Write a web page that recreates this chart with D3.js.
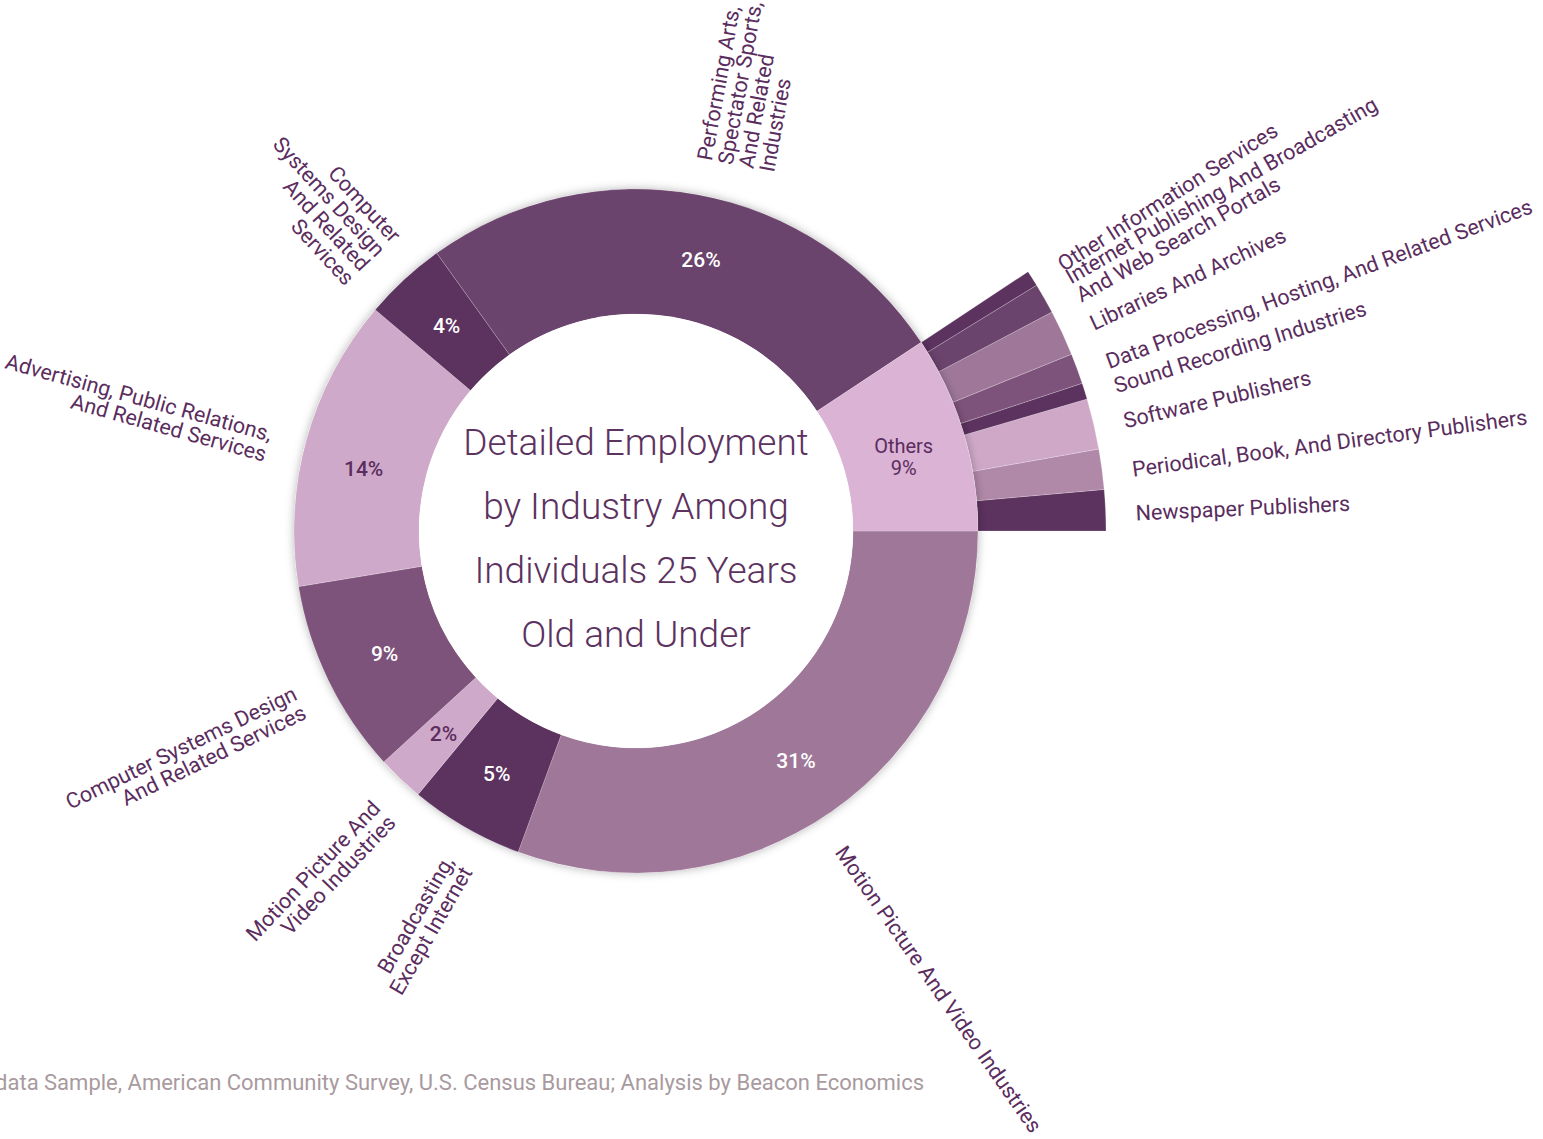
<!DOCTYPE html>
<html>
<head>
<meta charset="utf-8">
<script src="https://cdn.jsdelivr.net/npm/d3@7"></script>
<style>
  html, body { margin: 0; padding: 0; background: #ffffff; overflow: hidden; }
  svg { display: block; font-family: Roboto, "Noto Sans", sans-serif; }
</style>
</head>
<body>
<svg id="chart" width="1543" height="1139"></svg>
<script>
// ---- data ----
const categories = [
  "Motion Picture And Video Industries",
  "Broadcasting, Except Internet",
  "Motion Picture And Video Industries",
  "Computer Systems Design And Related Services",
  "Advertising, Public Relations, And Related Services",
  "Computer Systems Design And Related Services",
  "Performing Arts, Spectator Sports, And Related Industries",
  "Others"
];
const values = [30.6, 5.4, 2.2, 9.2, 13.8, 3.9, 25.6, 9.3];
const labelLines = [
  ["Motion Picture And Video Industries"],
  ["Broadcasting,", "Except Internet"],
  ["Motion Picture And", "Video Industries"],
  ["Computer Systems Design", "And Related Services"],
  ["Advertising, Public Relations,", "And Related Services"],
  ["Computer", "Systems Design", "And Related", "Services"],
  ["Performing Arts,", "Spectator Sports,", "And Related", "Industries"],
  []
];

const otherCategories = [
  "Newspaper Publishers",
  "Periodical, Book, And Directory Publishers",
  "Software Publishers",
  "Sound Recording Industries",
  "Data Processing, Hosting, And Related Services",
  "Libraries And Archives",
  "Internet Publishing And Broadcasting And Web Search Portals",
  "Other Information Services"
];
const otherValues = [1.41, 1.38, 1.74, 0.56, 1.05, 1.57, 1.05, 0.54];
const otherLabelLines = [
  ["Newspaper Publishers"],
  ["Periodical, Book, And Directory Publishers"],
  ["Software Publishers"],
  ["Sound Recording Industries"],
  ["Data Processing, Hosting, And Related Services"],
  ["Libraries And Archives"],
  ["Internet Publishing And Broadcasting", "And Web Search Portals"],
  ["Other Information Services"]
];

const titleLines = ["Detailed Employment", "by Industry Among", "Individuals 25 Years", "Old and Under"];
const sourceText = "Source: Public Use Microdata Sample, American Community Survey, U.S. Census Bureau; Analysis by Beacon Economics";

// ---- styling / layout (kept separate from data) ----
const colors = ["#9f7899", "#5c325f", "#cfa9c9", "#7e537b", "#cfa9c9", "#5c325f", "#6b446d", "#dab3d5"];
const otherColors = ["#5c325f", "#b088a8", "#cfa8c8", "#5c325f", "#7e537b", "#9f7899", "#6b446d", "#5c325f"];
const labelNudge = [14, 0, 0, -4, 4, -22, 0, 0];      // perpendicular shift of outer labels (px)
const pctAngleNudge = [0, 0, 0, 0, -2.5, 0, 3.0, 0];   // degrees
const subLabelNudge = 4;

const W = 1543, H = 1139;
const cx = 636, cy = 531;
const rInner = 217, rOuter = 342, rSubOuter = 470;
const labelR = 377, subLabelR = 500;
const textColor = "#5a2d5e";
const labelFont = 21.5, lineH = 0.98;
const darkSlices = new Set(["#5c325f", "#6b446d", "#7e537b", "#9f7899"]);

const svg = d3.select("#chart");
const defs = svg.append("defs");
const f = defs.append("filter").attr("id", "shadow")
  .attr("x", "-20%").attr("y", "-20%").attr("width", "140%").attr("height", "140%");
f.append("feDropShadow").attr("dx", 0).attr("dy", 0).attr("stdDeviation", 5)
  .attr("flood-color", "#000").attr("flood-opacity", 0.3);

const g = svg.append("g").attr("transform", `translate(${cx},${cy})`);

const total = d3.sum(values);
const pie = d3.pie().sort(null).value(d => d)
  .startAngle(Math.PI / 2).endAngle(Math.PI / 2 + 2 * Math.PI);
const arcs = pie(values);
const othersArc = arcs[arcs.length - 1];

// sub pie for "Others" breakdown, going counter-clockwise from 3 o'clock
const subPie = d3.pie().sort(null).value(d => d)
  .startAngle(othersArc.endAngle).endAngle(othersArc.startAngle);
const subArcs = subPie(otherValues);

const subArcGen = d3.arc().innerRadius(rOuter - 2).outerRadius(rSubOuter);
g.append("g").selectAll("path").data(subArcs).join("path")
  .attr("d", subArcGen)
  .attr("fill", (d, i) => otherColors[i])
  .attr("stroke", "rgba(255,255,255,0.35)").attr("stroke-width", 0.6);

// shadow disc behind donut
g.append("circle").attr("r", rOuter).attr("fill", "#fff").attr("filter", "url(#shadow)");

const arcGen = d3.arc().innerRadius(rInner).outerRadius(rOuter);
g.append("g").selectAll("path").data(arcs).join("path")
  .attr("d", arcGen)
  .attr("fill", (d, i) => colors[i])
  .attr("stroke", "rgba(255,255,255,0.3)").attr("stroke-width", 0.6);

g.append("circle").attr("r", rInner).attr("fill", "#fff");

function polar(a, r) { return [r * Math.cos(a - Math.PI / 2), r * Math.sin(a - Math.PI / 2)]; }

// percent labels
const midR = (rInner + rOuter) / 2;
arcs.forEach((d, i) => {
  const a = (d.startAngle + d.endAngle) / 2 + pctAngleNudge[i] * Math.PI / 180;
  const [x, y] = polar(a, midR);
  const pct = Math.round(d.value / total * 100) + "%";
  const fill = darkSlices.has(colors[i]) ? "#ffffff" : textColor;
  const t = g.append("text").attr("x", x).attr("y", y)
    .attr("text-anchor", "middle").attr("font-size", 21).attr("font-weight", 500)
    .attr("fill", fill);
  if (categories[i] === "Others") {
    t.attr("font-weight", 400).attr("font-size", 20);
    t.append("tspan").attr("x", x).attr("dy", "0.1em").text("Others");
    t.append("tspan").attr("x", x).attr("dy", "1.1em").text(pct);
  } else {
    t.attr("dy", "0.35em").text(pct);
  }
});

// outer radial labels
function radialLabel(a, r, lines, centered, nudge) {
  const deg = a * 180 / Math.PI - 90;
  const rightSide = Math.cos(a - Math.PI / 2) >= 0;
  const [x, y] = polar(a, r);
  const rot = rightSide ? deg : deg - 180;
  const t = g.append("text")
    .attr("transform", `translate(${x},${y}) rotate(${rot}) translate(0,${nudge})`)
    .attr("text-anchor", rightSide ? "start" : "end")
    .attr("font-size", labelFont).attr("fill", textColor);
  const first = centered ? 0.35 - (lines.length - 1) * lineH / 2 : 0.35;
  lines.forEach((ln, k) => {
    t.append("tspan").attr("x", 0)
      .attr("dy", (k === 0 ? first : lineH) + "em").text(ln);
  });
}
arcs.forEach((d, i) => {
  if (!labelLines[i].length) return;
  radialLabel((d.startAngle + d.endAngle) / 2, labelR, labelLines[i], false, labelNudge[i]);
});
subArcs.forEach((d, i) => {
  radialLabel((d.startAngle + d.endAngle) / 2, subLabelR, otherLabelLines[i], true, subLabelNudge);
});

// title
const title = g.append("text").attr("text-anchor", "middle")
  .attr("font-size", 37).attr("font-weight", 300).attr("fill", "#5c325f");
titleLines.forEach((ln, k) => {
  title.append("tspan").attr("x", 0).attr("y", -76 + k * 64).text(ln);
});

// source
svg.append("text").attr("x", 924).attr("y", 1090)
  .attr("text-anchor", "end").attr("font-size", 22).attr("fill", "#a89a9e")
  .text(sourceText);
</script>
</body>
</html>
